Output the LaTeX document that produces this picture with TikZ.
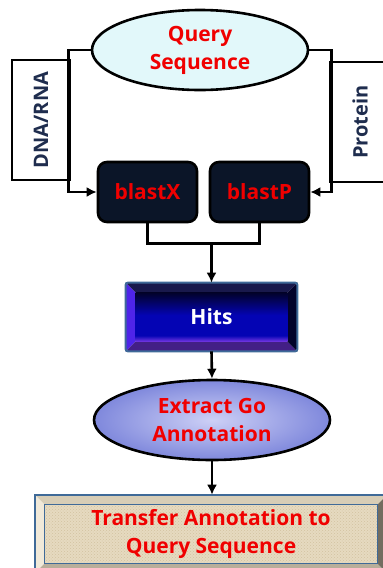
\documentclass[tikz,border=0pt]{standalone}
\usepackage{fontspec}
\setmainfont{Open Sans}
\usetikzlibrary{arrows.meta,shapes.geometric,positioning,calc,backgrounds,patterns}
\definecolor{qsCyan}{HTML}{E2F8FA}
\definecolor{qsNavy}{HTML}{0B1528}
\definecolor{qsLabel}{HTML}{1F2D4E}
\definecolor{qsRed}{HTML}{F00000}
\definecolor{qsSteel}{HTML}{3F6A98}
\definecolor{qsBeige}{HTML}{E6DAC0}
\definecolor{qsBeigeDot}{HTML}{D2C2A0}
\definecolor{qsHitsTop}{HTML}{02022A}
\definecolor{qsHitsMid}{HTML}{0404B4}
\definecolor{qsHitsBot}{HTML}{7034E0}
\definecolor{qsLavIn}{HTML}{CDD0F6}
\definecolor{qsLavOut}{HTML}{7F88DC}
\pgfdeclareverticalshading{hitsshade}{100bp}{color(0bp)=(qsHitsBot); color(25bp)=(qsHitsBot);
  color(31bp)=(qsHitsMid); color(52bp)=(qsHitsMid); color(75bp)=(qsHitsTop); color(100bp)=(qsHitsTop)}
\tikzset{
  qsnode/.style={draw, line width=2.6pt, align=center,
    font=\fontsize{21}{28}\selectfont\bfseries, text=qsRed, inner sep=0pt},
  ellnode/.style={qsnode, ellipse},
  blastbox/.style={qsnode, rounded corners=9pt, fill=qsNavy,
    minimum width=99pt, minimum height=60pt},
  sidebox/.style={draw, line width=2.6pt, minimum width=58pt,
    minimum height=120pt, inner sep=0pt},
  sidetext/.style={rotate=90, text=qsLabel,
    font=\fontsize{20}{22}\selectfont\bfseries},
  framebox/.style={qsnode, draw=none},
  link/.style={line width=2.6pt, -{Latex[length=10pt,width=10pt]}},
  wire/.style={line width=2.6pt},
}
% bevelled frame: node, top, left, bottom, right facet colours
\newcommand{\qsbevel}[5]{%
  \fill[#2] (#1.north west) -- (#1.north east) -- ($(#1.north east)+(-10,10)$) -- ($(#1.north west)+(10,10)$) -- cycle;
  \fill[#3] (#1.north west) -- (#1.south west) -- ($(#1.south west)+(10,-10)$) -- ($(#1.north west)+(10,10)$) -- cycle;
  \fill[#4] (#1.south west) -- (#1.south east) -- ($(#1.south east)+(-10,-10)$) -- ($(#1.south west)+(10,-10)$) -- cycle;
  \fill[#5] (#1.north east) -- (#1.south east) -- ($(#1.south east)+(-10,-10)$) -- ($(#1.north east)+(-10,10)$) -- cycle;
}
\begin{document}
\begin{tikzpicture}[x=1pt, y=-1pt]
  \useasboundingbox (0,0) rectangle (383,568);
  % side boxes
  \node[sidebox] (dna) at (41,120) {};
  \node[sidetext] (dnalabel) at (dna.center) {DNA/RNA};
  \node[sidebox, minimum width=64pt] (protein) at (362,122) {};
  \node[sidetext] (protlabel) at (360,122) {Protein};
  % main flow
  \node[ellnode, fill=qsCyan, minimum width=216pt, minimum height=80pt] (query) at (200,50) {Query\\Sequence};
  \node[blastbox] (blastx) at (147.5,192) {blastX};
  \node[blastbox] (blastp) at (259.5,192) {blastP};
  \node[framebox, text=white, minimum width=169pt, minimum height=66pt] (hits) at (211.5,317) {Hits};
  \node[ellnode, inner color=qsLavIn, outer color=qsLavOut, minimum width=236pt, minimum height=80pt] (extract) at (212,420) {Extract Go\\Annotation};
  \node[framebox, minimum width=350pt, minimum height=76pt] (transfer) at (211,534) {Transfer Annotation to\\Query Sequence};
  % bevelled frames
  \begin{scope}[on background layer]
    \qsbevel{hits}{black!75!blue!80!gray}{qsHitsBot!70!blue}{qsHitsBot!60!black}{qsHitsTop}
    \shade[shading=hitsshade]
      ($(hits.north west)+(10,10)$) rectangle ($(hits.south east)+(-10,-10)$);
    \draw[qsSteel, line width=2pt, rounded corners=2pt] (hits.north west) rectangle (hits.south east);
    \qsbevel{transfer}{qsBeige!85!gray}{qsBeige!60!white}{qsBeige!80!black}{qsBeige!50!black}
    \fill[qsBeige] ($(transfer.north west)+(10,10)$) rectangle ($(transfer.south east)+(-10,-10)$);
    \fill[pattern=crosshatch dots, pattern color=qsBeigeDot] ($(transfer.north west)+(10,10)$) rectangle ($(transfer.south east)+(-10,-10)$);
    \draw[qsSteel, line width=1.8pt] (transfer.north west) rectangle (transfer.south east);
    \draw[qsSteel, line width=1pt] ($(transfer.north west)+(10,10)$) rectangle ($(transfer.south east)+(-10,-10)$);
  \end{scope}
  % connectors
  \draw[link] (query.west) -- ++(-22,0) |- (blastx.west);
  \draw[link] (query.east) -- ++(22,0) |- (blastp.east);
  \coordinate (join) at ($(blastx.south)+(0,20)$);
  \draw[wire] (blastx.south) -- (join) -| (blastp.south);
  \draw[link] (hits.north |- join) -- (hits.north);
  \draw[link] (hits.south) -- (extract.north);
  \draw[link] (extract.south) -- (extract.south |- transfer.north);
\end{tikzpicture}
\end{document}
